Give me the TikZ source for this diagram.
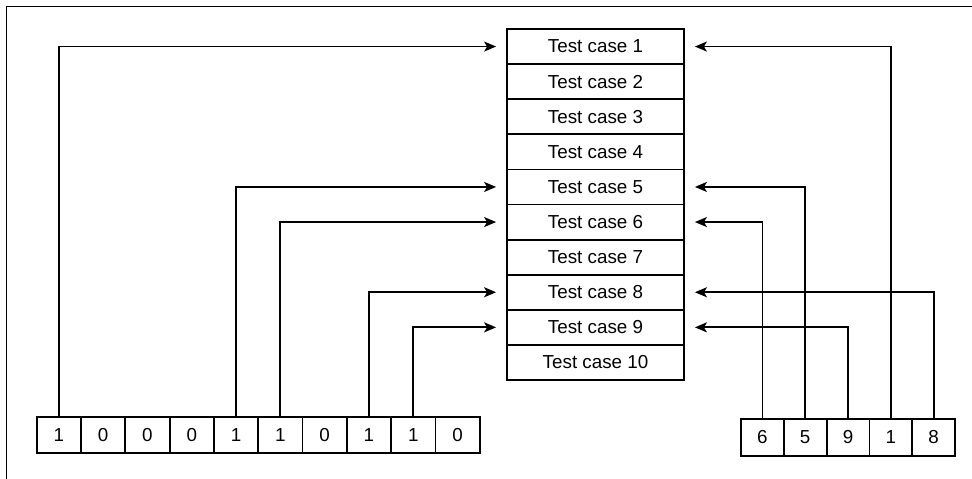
\documentclass[tikz,border=0pt]{standalone}
\usepackage{fontspec}
\setmainfont{Liberation Sans}
\usetikzlibrary{arrows.meta}
\begin{document}
\begin{tikzpicture}[x=1pt,y=-1pt,
  line width=1.8pt,
  font=\fontsize{18.8}{21}\selectfont,
  casebox/.style={draw, rectangle, minimum width=177pt, minimum height=35.1pt,
    inner sep=0pt, anchor=center},
  bitcell/.style={draw, rectangle, minimum width=44.3pt, minimum height=36pt,
    inner sep=0pt, anchor=center},
  idxcell/.style={draw, rectangle, minimum width=42.8pt, minimum height=37pt,
    inner sep=0pt, anchor=center},
  link/.style={-{Stealth[length=12pt,width=10pt,inset=3pt]}, line width=1.8pt,
    shorten >=10pt}]
\useasboundingbox (0,0) rectangle (972,479);
% partial frame
\draw[line width=1.2pt] (6.5,479) -- (6.5,6.5) -- (972,6.5);
% list of test cases
\foreach \i in {1,...,10}
  \node[casebox] (tc\i) at (595.5,{29+35.1*(\i-0.5)}) {Test case \i};
% bit vector
\foreach \v [count=\i] in {1,0,0,0,1,1,0,1,1,0}
  \node[bitcell] (b\i) at ({36.7+44.3*(\i-0.5)},435) {\v};
% index vector
\foreach \v [count=\i] in {6,5,9,1,8}
  \node[idxcell] (r\i) at ({741+42.8*(\i-0.5)},437.5) {\v};
% selections from the bit vector
\draw[link] (b1.north) |- (tc1.west);
\draw[link] (b5.north) |- (tc5.west);
\draw[link] (b6.north) |- (tc6.west);
\draw[link] (b8.north) |- (tc8.west);
\draw[link] (b9.north) |- (tc9.west);
% selections from the index vector
\draw[link] (r1.north) |- (tc6.east);
\draw[link] (r2.north) |- (tc5.east);
\draw[link] (r3.north) |- (tc9.east);
\draw[link] (r4.north) |- (tc1.east);
\draw[link] (r5.north) |- (tc8.east);
\end{tikzpicture}
\end{document}
